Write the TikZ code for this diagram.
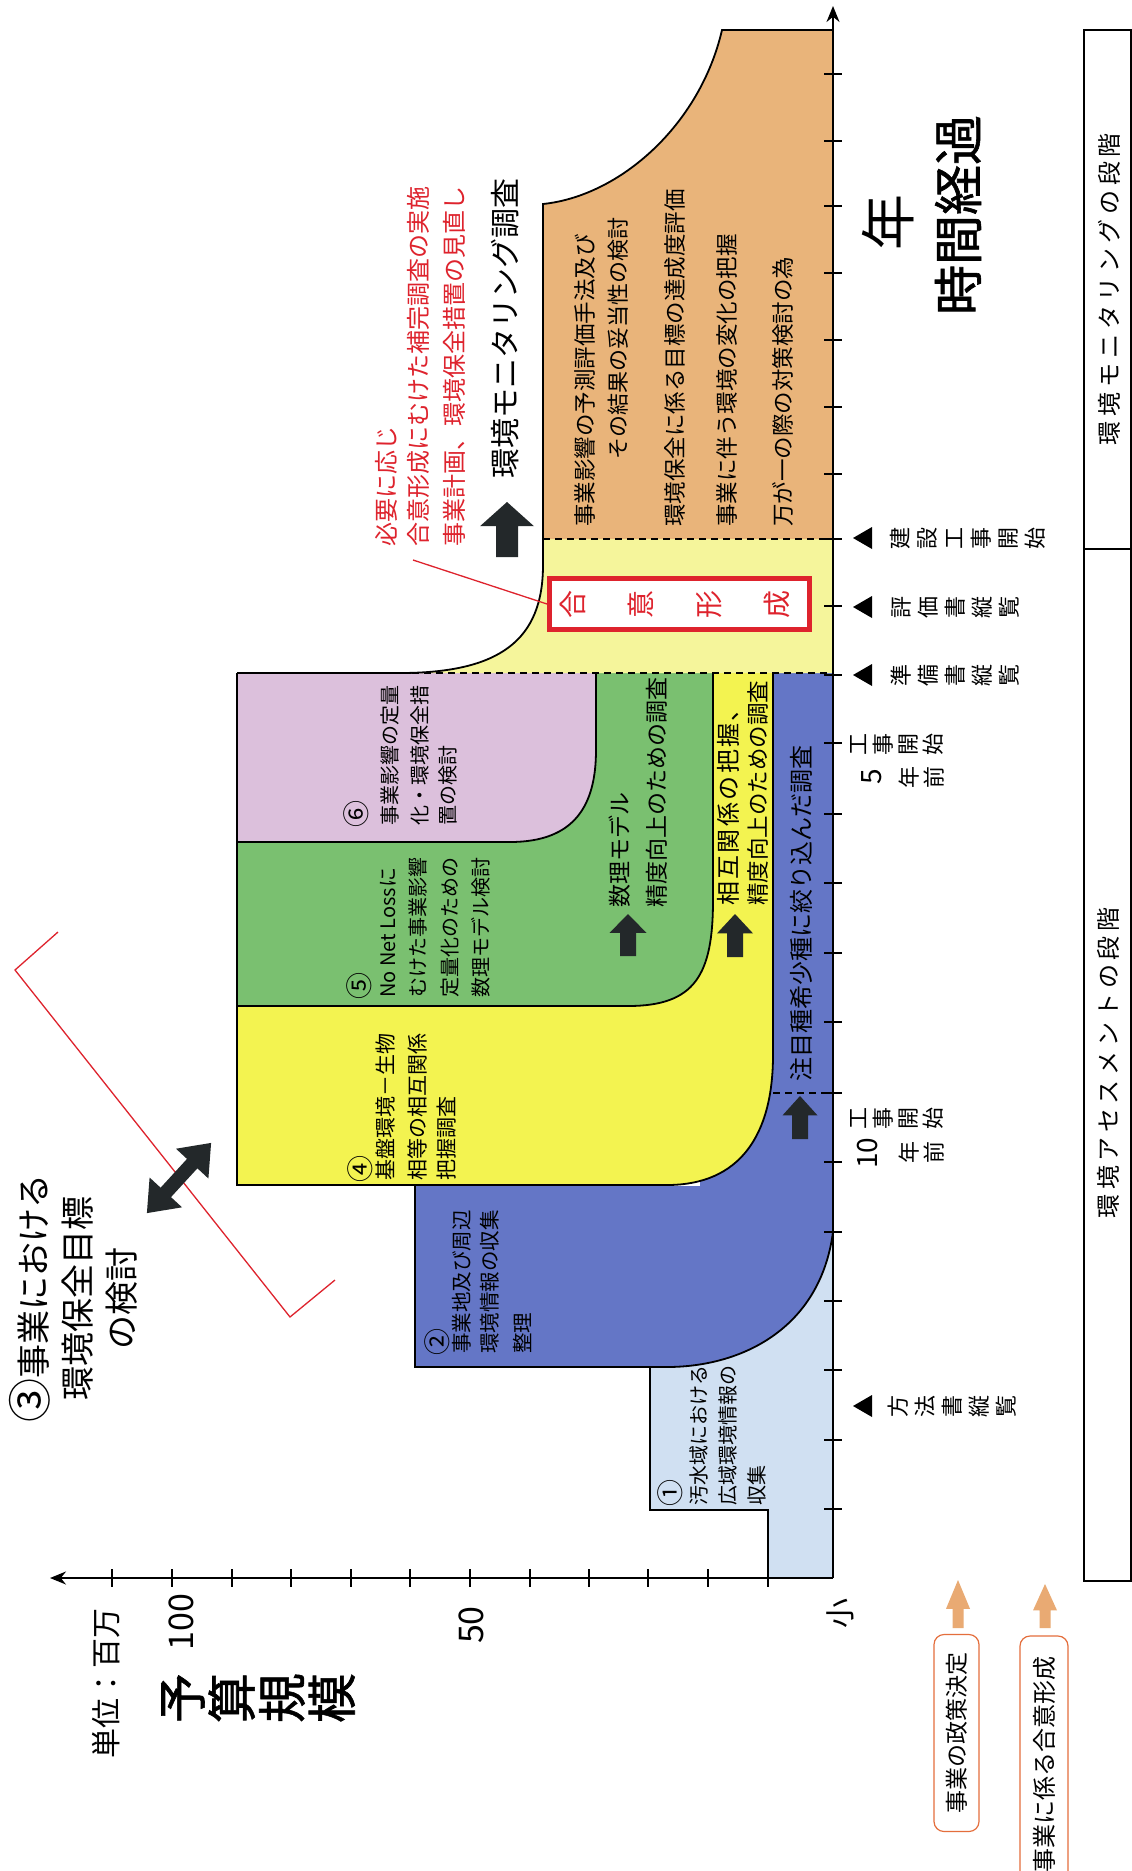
\documentclass[tikz,border=0pt]{standalone}
\usepackage{fontspec}
\setmainfont{Noto Sans CJK JP}
\newfontfamily\jpbold[FakeBold=1.2]{Noto Sans CJK JP}
\usetikzlibrary{arrows.meta}
\definecolor{orangeR}{RGB}{233,180,122}
\definecolor{consY}{RGB}{245,245,155}
\definecolor{yelF}{RGB}{243,243,80}
\definecolor{greenF}{RGB}{122,192,112}
\definecolor{pinkF}{RGB}{220,192,220}
\definecolor{blueF}{RGB}{100,118,198}
\definecolor{lblueF}{RGB}{208,224,242}
\definecolor{redT}{RGB}{222,35,45}
\definecolor{darkA}{RGB}{35,40,42}
\definecolor{tanA}{RGB}{233,170,115}
\definecolor{boxR}{RGB}{228,110,60}
\newcommand\fsz[2]{\fontsize{#1}{#2}\selectfont}
\newcommand\blockup[7]{\fill[#1] (#2,#3) -- ({#2+#5/2},{#3+#7*#4}) -- ({#2+#6/2},{#3+#7*#4}) -- ({#2+#6/2},{#3+#4}) -- ({#2-#6/2},{#3+#4}) -- ({#2-#6/2},{#3+#7*#4}) -- ({#2-#5/2},{#3+#7*#4}) -- cycle;}
\tikzset{
 txl/.style={rotate=90, anchor=west, inner sep=0pt},
 txc/.style={rotate=90, anchor=center, inner sep=0pt},
 txs/.style={rotate=90, anchor=center, inner sep=0pt, align=center},
 circ/.style={rotate=90, anchor=west, inner sep=0pt, font=\fsz{27}{27}},
 outl/.style={line width=1.8pt, black},
 dsh/.style={line width=1.6pt, dash pattern=on 7pt off 5pt},
 tk/.style={line width=1.5pt},
 ax/.style={line width=2pt, -{Stealth[length=16pt,width=13pt]}},
}
\begin{document}
\begin{tikzpicture}[x=1pt,y=-1pt]
\useasboundingbox (0,0) rectangle (1132,1871);
\fill[white] (0,0) rectangle (1132,1871);

% ---------- regions ----------
\fill[lblueF] (650,1200) -- (650,1510) -- (768,1510) -- (768,1578) -- (833,1578) -- (833,1200) -- cycle;
\fill[blueF] (415,1186) -- (415,1367) -- (667,1367) .. controls (740,1367) and (820,1330) .. (833,1232) -- (833,673) -- (700,673) -- (700,1186) -- cycle;
\fill[yelF] (237,673) -- (237,1185) -- (667,1185) .. controls (740,1185) and (773,1135) .. (773,1055) -- (773,673) -- cycle;
\fill[greenF] (237,673) -- (237,1006) -- (628,1006) .. controls (695,1006) and (713,975) .. (713,900) -- (713,673) -- cycle;
\fill[pinkF] (237,673) -- (237,842) -- (510,842) .. controls (575,842) and (596,805) .. (596,750) -- (596,673) -- cycle;
\fill[consY] (833,539) -- (543,539) -- (543,565) .. controls (543,640) and (500,673) .. (400,673) -- (833,673) -- cycle;
\fill[orangeR] (722,30) -- (833,30) -- (833,539) -- (543,539) -- (543,204) .. controls (620,196) and (700,125) .. (722,30) -- cycle;

% ---------- outlines ----------
\draw[outl] (650,1367) -- (650,1510) -- (768,1510) -- (768,1578);
\draw[outl] (415,1186) -- (415,1367) -- (667,1367) .. controls (740,1367) and (820,1330) .. (833,1232);
\draw[outl] (237,1006) -- (237,1185) -- (667,1185) .. controls (740,1185) and (773,1135) .. (773,1055) -- (773,673);
\draw[outl] (237,842) -- (237,1006) -- (628,1006) .. controls (695,1006) and (713,975) .. (713,900) -- (713,673);
\draw[outl] (237,673) -- (237,842) -- (510,842) .. controls (575,842) and (596,805) .. (596,750) -- (596,673);
\draw[outl] (833,30) -- (722,30) .. controls (700,125) and (620,196) .. (543,204) -- (543,565) .. controls (543,640) and (500,673) .. (400,673) -- (237,673);
\draw[dsh] (543,539) -- (833,539);
\draw[dsh] (400,673) -- (833,673);
\draw[dsh] (773,1093) -- (833,1093);

% ---------- axes ----------
\draw[ax] (833,1578) -- (833,6);
\draw[ax] (833,1578) -- (50,1578);
\foreach \y in {74,141,206,273,340,407,474,539,606,675,743,814,883,953,1022,1093,1162,1232,1301,1370,1440,1509}
  \draw[tk] (824,\y) -- (842,\y);
\foreach \x in {112,172,232,291,351,410,470,530,589,648,708,768}
  \draw[tk] (\x,1569) -- (\x,1587);

% ---------- axis labels ----------
\node[txc, font=\fsz{30}{30}] (unit) at (106,1683) {単位：百万};
\node[txc, font=\fsz{34}{34}] (v100) at (181,1622) {100};
\node[txc, font=\fsz{34}{34}] (v50) at (471,1625) {50};
\node[txc, font=\fsz{30}{30}] (small) at (840,1613) {小};
\node[txs, font=\jpbold\fsz{50}{50}] (yosan) at (258,1698) {予\\算\\規\\模};
\node[txc, font=\fsz{56}{56}] (nen) at (888,222) {年};
\node[txc, font=\jpbold\fsz{50}{50}] (jikan) at (958,215) {時間経過};

% time milestones
\foreach \y in {538,607,675,1406}
  \fill (853,\y) -- (872,{\y-11}) -- (872,{\y+11}) -- cycle;
\node[txs, font=\fsz{22}{27}] (m1) at (968,538) {建\\設\\工\\事\\開\\始};
\node[txs, font=\fsz{22}{27}] (m2) at (956,607) {評\\価\\書\\縦\\覧};
\node[txs, font=\fsz{22}{27}] (m3) at (955,675) {準\\備\\書\\縦\\覧};
\node[txs, font=\fsz{22}{27}] (m4) at (952,1406) {方\\法\\書\\縦\\覧};
\node[txs, font=\fsz{22}{25}] (k5a) at (897,744) {工\\事\\開\\始};
\node[txc, font=\fsz{28}{28}] (k5b) at (872,777) {5};
\node[txs, font=\fsz{22}{25}] (k5c) at (922,777) {年\\前};
\node[txs, font=\fsz{22}{25}] (k10a) at (897,1118) {工\\事\\開\\始};
\node[txc, font=\fsz{28}{28}] (k10b) at (868,1153) {10};
\node[txs, font=\fsz{22}{25}] (k10c) at (922,1152) {年\\前};

% ---------- stage boxes ----------
\draw[line width=1.5pt] (1084,30) rectangle (1131,1581);
\draw[line width=1.5pt] (1084,549) -- (1131,549);
\node[txc, font=\fsz{24}{24}\addfontfeature{LetterSpace=20}] (st1) at (1109,289) {環境モニタリングの段階};
\node[txc, font=\fsz{24}{24}\addfontfeature{LetterSpace=20}] (st2) at (1108,1063) {環境アセスメントの段階};

% ---------- region texts ----------
\node[circ] (t1a) at (670,1507) {①};
\node[txl, font=\fsz{20}{20}] (t1b) at (699,1506) {汚水域における};
\node[txl, font=\fsz{20}{20}] (t1c) at (728,1506) {広域環境情報の};
\node[txl, font=\fsz{20}{20}] (t1d) at (757,1506) {収集};

\node[circ] (t2a) at (437,1356) {②};
\node[txl, font=\fsz{20.5}{20.5}] (t2b) at (462,1354) {事業地及び周辺};
\node[txl, font=\fsz{20.5}{20.5}] (t2c) at (490,1354) {環境情報の収集};
\node[txl, font=\fsz{20.5}{20.5}] (t2d) at (522,1354) {整理};

\node[circ] (t4a) at (360,1183) {④};
\node[txl, font=\fsz{21}{21}] (t4b) at (385,1181) {基盤環境－生物};
\node[txl, font=\fsz{21}{21}] (t4c) at (417,1181) {相等の相互関係};
\node[txl, font=\fsz{21}{21}] (t4d) at (447,1181) {把握調査};

\node[circ] (t5a) at (359,1000) {⑤};
\node[txl, font=\fsz{20}{20}] (t5b) at (388,998) {No Net Lossに};
\node[txl, font=\fsz{20}{20}] (t5c) at (418,998) {むけた事業影響};
\node[txl, font=\fsz{20}{20}] (t5d) at (450,998) {定量化のための};
\node[txl, font=\fsz{20}{20}] (t5e) at (481,998) {数理モデル検討};

\node[circ] (t6a) at (356,828) {⑥};
\node[txl, font=\fsz{20}{20}] (t6b) at (390,826) {事業影響の定量};
\node[txl, font=\fsz{20}{20}] (t6c) at (420,826) {化・環境保全措};
\node[txl, font=\fsz{20}{20}] (t6d) at (448,826) {置の検討};

% strip texts and arrows
\blockup{darkA}{800}{1096}{43}{35}{16}{0.45}
\node[txl, font=\fsz{24}{24}] (s1) at (801,1082) {注目種希少種に絞り込んだ調査};
\blockup{darkA}{735}{914}{43}{36}{16}{0.45}
\node[txl, font=\fsz{24}{24}\addfontfeature{LetterSpace=10}] (s2a) at (728,906) {相互関係の把握、};
\node[txl, font=\fsz{22.5}{22.5}] (s2b) at (758,906) {精度向上のための調査};
\blockup{darkA}{628}{914}{42}{37}{16}{0.45}
\node[txl, font=\fsz{23}{23}] (s3a) at (620,908) {数理モデル};
\node[txl, font=\fsz{23}{23}] (s3b) at (657,908) {精度向上のための調査};

% consensus box
\node[draw=redT, line width=5pt, fill=white, minimum width=260pt, minimum height=51pt, inner sep=0pt] (gouibox) at (679.5,604) {};
\node[txs, text=redT, font=\fsz{28}{68}] (goui) at (675,604) {合\\意\\形\\成};

% monitoring
\blockup{darkA}{507}{502}{55}{54}{22}{0.44}
\node[txl, font=\fsz{30}{30}] (mon) at (505,479) {環境モニタリング調査};

\node[txl, text=redT, font=\fsz{24}{24}] (r1) at (386,547) {必要に応じ};
\node[txl, text=redT, font=\fsz{24}{24}] (r2) at (418,547) {合意形成にむけた補完調査の実施};
\node[txl, text=redT, font=\fsz{24}{24}] (r3) at (454,547) {事業計画、環境保全措置の見直し};
\coordinate (rstart) at (413,560);
\draw[redT, line width=1.3pt] (rstart) -- (gouibox.west);

\node[txl, font=\fsz{22.5}{22.5}] (o1) at (585,527) {事業影響の予測評価手法及び};
\node[txl, font=\fsz{22}{22}] (o2) at (618,460) {その結果の妥当性の検討};
\node[txl, font=\fsz{22.5}{22.5}] (o3) at (675,527) {環境保全に係る目標の達成度評価};
\node[txl, font=\fsz{22.5}{22.5}] (o4) at (727,527) {事業に伴う環境の変化の把握};
\node[txl, font=\fsz{22.5}{22.5}] (o5) at (783,527) {万が一の際の対策検討の為};

% ---------- item 3 ----------
\node[txs, font=\fsz{34}{44}] (t3) at (73,1298) {{\fontsize{44}{44}\selectfont ③}事業における\\環境保全目標\\の検討};
\draw[redT, line width=1.3pt] (58,932) -- (15,970) -- (290,1317) -- (335,1280);
\fill[darkA] (211.1,1142.9) -- (208.4,1178.5) -- (197.4,1168.3) -- (171.0,1197.1) -- (182.0,1207.3) -- (146.9,1213.1) -- (149.6,1177.5) -- (160.6,1187.7) -- (187.0,1158.9) -- (176.0,1148.7) -- cycle;

% ---------- bottom boxes ----------
\blockup{tanA}{958}{1580}{48}{24}{11}{0.6}
\blockup{tanA}{1045}{1584}{44}{24}{11}{0.6}
\node[rotate=90, draw=boxR, line width=1.2pt, rounded corners=10pt, fill=white, minimum width=197pt, minimum height=45pt, inner sep=0pt, font=\fsz{23}{23}] (pol) at (956.5,1733) {事業の政策決定};
\node[rotate=90, draw=boxR, line width=1.2pt, rounded corners=10pt, fill=white, minimum width=256pt, minimum height=48pt, inner sep=0pt, font=\fsz{24}{24}] (cons) at (1044,1764) {事業に係る合意形成};
\end{tikzpicture}
\end{document}
